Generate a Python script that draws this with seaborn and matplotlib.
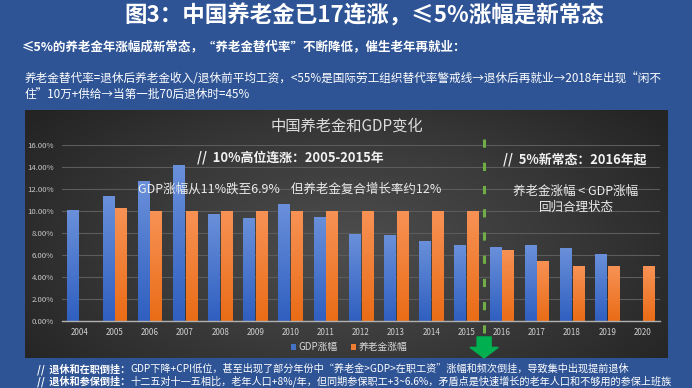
import matplotlib
matplotlib.use("Agg")
import numpy as np
import pandas as pd
import seaborn as sns
import matplotlib.pyplot as plt
from matplotlib.colors import LinearSegmentedColormap, to_rgb
from matplotlib.patches import FancyArrow

plt.rcParams['font.family'] = ['Noto Sans CJK SC', 'DejaVu Sans']
plt.rcParams['axes.unicode_minus'] = False

# ---------------- data ----------------
years = [str(y) for y in range(2004, 2021)]
gdp_growth = [10.1, 11.4, 12.7, 14.2, 9.7, 9.4, 10.6, 9.5, 7.9, 7.8, 7.3, 6.9,
              6.7, 6.9, 6.6, 6.1, np.nan]
pension_growth = [np.nan, 10.3, 10.0, 10.0, 10.0, 10.0, 10.0, 10.0, 10.0, 10.0, 10.0, 10.0,
                  6.5, 5.5, 5.0, 5.0, 5.0]
series_names = ["GDP涨幅", "养老金涨幅"]
y_ticks = [0, 2, 4, 6, 8, 10, 12, 14, 16]

df = pd.DataFrame({
    "year": years * 2,
    "value": gdp_growth + pension_growth,
    "series": [series_names[0]] * len(years) + [series_names[1]] * len(years),
})

W, H = 692, 388
def fx(x):
    return x / W
def fy(y):
    return 1 - y / H

BG = "#2e5496"
BLUE = "#4472c4"
ORANGE = "#ed7d31"

fig = plt.figure(figsize=(W / 100, H / 100), dpi=100, facecolor=BG)

# ---- dark chart panel with radial gradient ----
panel = fig.add_axes([fx(25), fy(358), (668 - 25) / W, (358 - 110) / H])
panel.axis("off")
yy, xx = np.mgrid[0:1:200j, 0:1:400j]
r = np.sqrt(((xx - 0.5) / 0.62) ** 2 + ((yy - 0.55) / 0.85) ** 2)
pcmap = LinearSegmentedColormap.from_list("p", ["#4e4e4e", "#3a3a3a", "#242424"])
panel.imshow(np.clip(r, 0, 1), cmap=pcmap, aspect="auto", extent=[0, 1, 0, 1],
             vmin=0, vmax=1)
panel.set_xlim(0, 1)
panel.set_ylim(0, 1)

# ---- main axes ----
ax = fig.add_axes([fx(62), fy(321), (660 - 62) / W, (321 - 145) / H])
ax.set_facecolor("none")
sns.barplot(data=df, x="year", y="value", hue="series", palette=[BLUE, ORANGE],
            width=0.72, gap=0.08, saturation=1, ax=ax, legend=True)

# vertical gradients inside the bars
bar_patches = [p for p in ax.patches if np.isfinite(p.get_height()) and p.get_height() > 0]
grads = {
    to_rgb(BLUE): ["#6a90da", "#2f5fc0"],
    to_rgb(ORANGE): ["#f79255", "#ea6c16"],
}
grad = np.linspace(0, 1, 100).reshape(-1, 1)
for p in bar_patches:
    fc = tuple(round(c, 3) for c in p.get_facecolor()[:3])
    key = min(grads.keys(), key=lambda k: sum((a - b) ** 2 for a, b in zip(k, fc)))
    cm = LinearSegmentedColormap.from_list("g", grads[key])
    x0, w, h = p.get_x(), p.get_width(), p.get_height()
    im = ax.imshow(grad, cmap=cm, aspect="auto", extent=[x0, x0 + w, 0, h],
                   origin="upper", zorder=p.get_zorder() + 0.1)
    im.set_clip_path(p)

ax.set_xlim(-0.5, len(years) - 0.5)
ax.set_ylim(0, 16)
ax.set_yticks(y_ticks)
ax.set_yticklabels([f"{v:.2f}%" for v in y_ticks])
ax.set_xlabel("")
ax.set_ylabel("")
ax.grid(axis="y", color="#5c5c5c", lw=0.8)
ax.set_axisbelow(True)
for s in ["top", "right", "left"]:
    ax.spines[s].set_visible(False)
ax.spines["bottom"].set_color("#b0b0b0")
ax.spines["bottom"].set_linewidth(1.0)
ax.tick_params(axis="y", length=0, pad=6, labelsize=5.6, labelcolor="#c8c8c8")
ax.tick_params(axis="x", length=0, pad=5, labelsize=5.8, labelcolor="#d0d0d0")

# legend
sns.move_legend(ax, "center", bbox_to_anchor=(0.48, -0.148), ncol=2, frameon=False,
                title=None, fontsize=7, handlelength=0.55, handleheight=0.55,
                handletextpad=0.3, columnspacing=1.3, labelcolor="#d9d9d9")

# divider between 2015 and 2016
split = years.index("2016") - 0.5
ax.plot([split, split], [16.55, -1.2], color="#70ad47", lw=2.2,
        linestyle=(0, (2.7, 4.9)), clip_on=False, zorder=5)
arrow = FancyArrow(split, -1.45, 0, -1.9, width=0.4, head_width=0.8, head_length=0.95,
                   length_includes_head=True, color="#00b050", clip_on=False, zorder=6)
ax.add_patch(arrow)

# ---------------- texts ----------------
fig.text(fx(364), fy(16), "图3：中国养老金已17连涨，≤5%涨幅是新常态", ha="center", va="center",
         fontsize=16.2, weight="bold", color="white")
fig.text(fx(22), fy(47), "≤5%的养老金年涨幅成新常态，“养老金替代率”不断降低，催生老年再就业：",
         ha="left", va="center", fontsize=9, weight="bold", color="white")
fig.text(fx(25), fy(78),
         "养老金替代率=退休后养老金收入/退休前平均工资，<55%是国际劳工组织替代率警戒线→退休后再就业→2018年出现“闲不",
         ha="left", va="center", fontsize=8.4, color="white")
fig.text(fx(25), fy(94), "住”10万+供给→当第一批70后退休时=45%",
         ha="left", va="center", fontsize=8.4, color="white")

fig.text(fx(347), fy(126), "中国养老金和GDP变化", ha="center", va="center",
         fontsize=11, color="#dcdcdc")
fig.text(fx(290), fy(158), "//  10%高位连涨：2005-2015年", ha="center", va="center",
         fontsize=9.3, weight="bold", color="#f2f2f2")
fig.text(fx(290), fy(189), "GDP涨幅从11%跌至6.9%    但养老金复合增长率约12%", ha="center",
         va="center", fontsize=9, color="#ececec")
fig.text(fx(575), fy(160), "//  5%新常态：2016年起", ha="center", va="center",
         fontsize=9.3, weight="bold", color="#f2f2f2")
fig.text(fx(576), fy(191), "养老金涨幅 < GDP涨幅", ha="center", va="center",
         fontsize=9, color="#ececec")
fig.text(fx(576), fy(207), "回归合理状态", ha="center", va="center",
         fontsize=9, color="#ececec")

bottom_lines = [
    ("//  退休和在职倒挂：",
     "GDP下降+CPI低位，甚至出现了部分年份中“养老金>GDP>在职工资”涨幅和频次倒挂，导致集中出现提前退休"),
    ("//  退休和参保倒挂：",
     "十二五对十一五相比，老年人口+8%/年，但同期参保职工+3~6.6%，矛盾点是快速增长的老年人口和不够用的参保上班族"),
]
fig.canvas.draw()
renderer = fig.canvas.get_renderer()
for i, (head, rest) in enumerate(bottom_lines):
    yy_ = fy(369 + 12 * i)
    t = fig.text(fx(37), yy_, head, ha="left", va="center", fontsize=7.3,
                 weight="bold", color="white")
    bb = t.get_window_extent(renderer)
    fig.text(bb.x1 / fig.bbox.width, yy_, rest, ha="left", va="center", fontsize=7.3,
             color="white")

fig.savefig("out.png", dpi=100, facecolor=BG)
